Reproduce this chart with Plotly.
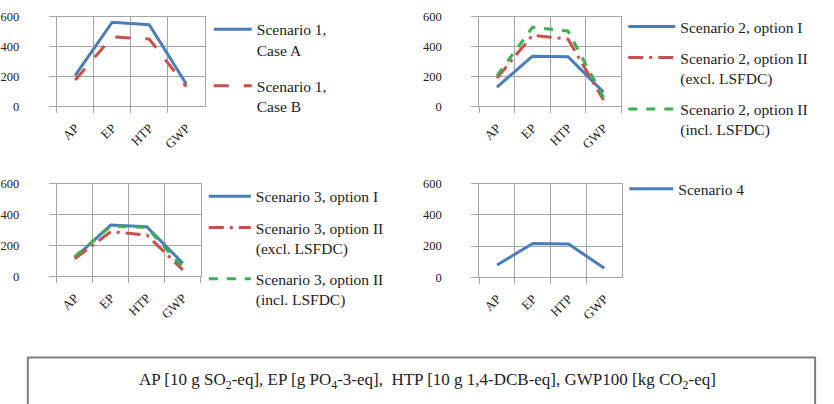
import plotly.graph_objects as go

categories = ["AP", "EP", "HTP", "GWP"]
y_ticks = [0, 200, 400, 600]

s1_case_a = [208, 563, 546, 150]
s1_case_b = [176, 465, 450, 133]

s2_opt1 = [129, 336, 332, 96]
s2_opt2_excl = [189, 476, 450, 43]
s2_opt2_incl = [204, 529, 504, 60]

s3_opt1 = [120, 332, 321, 85]
s3_opt2_excl = [114, 289, 268, 42]
s3_opt2_incl = [127, 325, 317, 57]

s4 = [79, 217, 213, 58]

footnote = ("AP [10 g SO<sub>2</sub>-eq], EP [g PO<sub>4</sub>-3-eq],  "
            "HTP [10 g 1,4-DCB-eq], GWP100 [kg CO<sub>2</sub>-eq]")

BLUE = "#4a7ebb"
RED = "#c8504a"
GREEN = "#3fae4f"
FONT = "Liberation Serif"
W = 834
H = 404

fig = go.Figure()

def add(y, name, color, dash, idx, legend, group):
    sfx = "" if idx == 1 else str(idx)
    fig.add_trace(go.Scatter(
        x=categories, y=y, name=name, mode="lines",
        line=dict(color=color, width=3, dash=dash),
        xaxis="x" + sfx, yaxis="y" + sfx,
        legend=legend, legendgroup=group,
    ))

add(s1_case_a, "Scenario 1,<br>Case A", BLUE, "solid", 1, "legend", "a1")
add(s1_case_b, "Scenario 1,<br>Case B", RED, "longdash", 1, "legend", "b1")

add(s2_opt1, "Scenario 2, option I", BLUE, "solid", 2, "legend2", "a2")
add(s2_opt2_excl, "Scenario 2, option II<br>(excl. LSFDC)", RED, "longdashdot", 2, "legend2", "b2")
add(s2_opt2_incl, "Scenario 2, option II<br>(incl. LSFDC)", GREEN, "dash", 2, "legend2", "c2")

add(s3_opt1, "Scenario 3, option I", BLUE, "solid", 3, "legend3", "a3")
add(s3_opt2_excl, "Scenario 3, option II<br>(excl. LSFDC)", RED, "longdashdot", 3, "legend3", "b3")
add(s3_opt2_incl, "Scenario 3, option II<br>(incl. LSFDC)", GREEN, "dash", 3, "legend3", "c3")

add(s4, "Scenario 4", BLUE, "solid", 4, "legend4", "a4")

GRID = "#a6a6a6"

def xax(domain, anchor):
    return dict(
        domain=domain, anchor=anchor, type="category",
        categoryorder="array", categoryarray=categories,
        range=[-0.5, 3.5],
        tickson="boundaries", ticks="outside", ticklen=6, tickcolor=GRID,
        showgrid=True, gridcolor=GRID, gridwidth=1,
        showline=True, linecolor=GRID, linewidth=1, mirror=True,
        tickangle=-45, tickfont=dict(family=FONT, size=13, color="#222"),
        ticklabelstandoff=8, fixedrange=True,
    )

def yax(domain, anchor):
    return dict(
        domain=domain, anchor=anchor, range=[0, 600], tickvals=y_ticks,
        ticks="outside", ticklen=7, tickcolor=GRID,
        showgrid=True, gridcolor=GRID, gridwidth=1, zeroline=False,
        showline=True, linecolor=GRID, linewidth=1, mirror=True,
        tickfont=dict(family=FONT, size=12.5, color="#222"),
        ticklabelstandoff=27, fixedrange=True,
    )

d1x = [52 / W, 201 / W]
d2x = [477 / W, 620 / W]
d3x = [52 / W, 197 / W]
d4x = [477 / W, 621 / W]
dy_top = [1 - 103 / H, 1 - 10 / H]
dy3 = [1 - 279 / H, 1 - 183 / H]
dy4 = [1 - 280 / H, 1 - 183 / H]

def leg(x, ytop_px, gap, itemw):
    return dict(
        x=x, y=1 - ytop_px / H, xanchor="left", yanchor="top",
        font=dict(family=FONT, size=15.5, color="#222"),
        bgcolor="rgba(0,0,0,0)", borderwidth=0,
        tracegroupgap=gap, traceorder="grouped", valign="top",
        itemwidth=itemw,
    )

fig.update_layout(
    width=W, height=H,
    margin=dict(l=0, r=0, t=0, b=0),
    paper_bgcolor="white", plot_bgcolor="white",
    xaxis=xax(d1x, "y"), yaxis=yax(dy_top, "x"),
    xaxis2=xax(d2x, "y2"), yaxis2=yax(dy_top, "x2"),
    xaxis3=xax(d3x, "y3"), yaxis3=yax(dy3, "x3"),
    xaxis4=xax(d4x, "y4"), yaxis4=yax(dy4, "x4"),
    legend=leg(205 / W, 6, 13, 38),
    legend2=leg(622 / W, 3, 8, 47),
    legend3=leg(200 / W, 179, 8, 42),
    legend4=leg(623 / W, 171, 8, 44),
    shapes=[dict(
        type="rect", xref="paper", yref="paper",
        x0=23 / W, x1=815 / W, y0=1 - 363 / H, y1=-0.2,
        line=dict(color="#7f7f7f", width=2), fillcolor="rgba(0,0,0,0)",
    )],
    annotations=[dict(
        text=footnote, xref="paper", yref="paper",
        x=425 / W, y=1 - 387 / H, xanchor="center", yanchor="middle",
        showarrow=False, font=dict(family=FONT, size=17, color="#222"),
    )],
)

fig.write_html("out.html")
